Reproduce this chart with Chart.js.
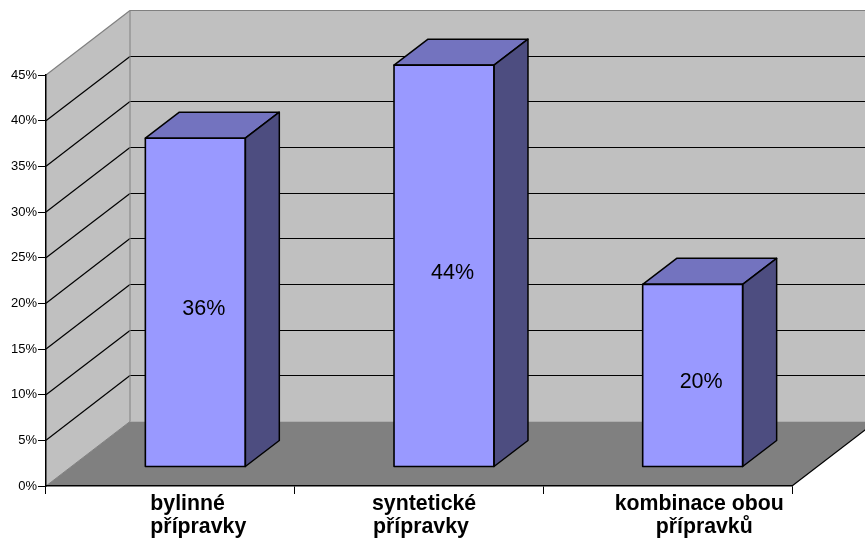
<!DOCTYPE html>
<html>
<head>
<meta charset="utf-8">
<style>
html, body { margin: 0; padding: 0; background: #fff; }
canvas { display: block; }
</style>
<script src="https://cdn.jsdelivr.net/npm/chart.js@4"></script>
</head>
<body>
<canvas id="chartPripravky" width="865" height="541"></canvas>
<script>
var categories = [['bylinné', 'přípravky'], ['syntetické', 'přípravky'], ['kombinace obou', 'přípravků']];
var values = [36, 44, 20];
var yMax = 45;
var yStep = 5;

// depth of the box the chart stands in, and of one bar
var wallDepth = { x: 84, y: -64.5 };
var barDepth = { x: 34, y: -26 };
// bars stand part of the way into the floor
var barShift = { x: 25, y: -19 };
// left edge of each category text line, relative to the category centre
var labelIndent = [[-20, -20], [-47, -46], [-53, -12]];

function polygon(ctx, pts, fill, stroke, width) {
    ctx.beginPath();
    ctx.moveTo(pts[0][0], pts[0][1]);
    for (var i = 1; i < pts.length; i++) {
        ctx.lineTo(pts[i][0], pts[i][1]);
    }
    ctx.closePath();
    if (fill) {
        ctx.fillStyle = fill;
        ctx.fill();
    }
    if (stroke) {
        ctx.strokeStyle = stroke;
        ctx.lineWidth = width;
        ctx.stroke();
    }
}

function line(ctx, x1, y1, x2, y2, color, width) {
    ctx.beginPath();
    ctx.moveTo(x1, y1);
    ctx.lineTo(x2, y2);
    ctx.strokeStyle = color;
    ctx.lineWidth = width;
    ctx.stroke();
}

// back wall, side wall, floor and the grid on them
var boxPlugin = {
    id: 'box',
    beforeDraw: function (chart) {
        var ctx = chart.ctx;
        var a = chart.chartArea;
        var dx = wallDepth.x, dy = wallDepth.y;
        ctx.save();
        polygon(ctx, [[a.left + dx, a.top + dy], [a.right + dx, a.top + dy], [a.right + dx, a.bottom + dy], [a.left + dx, a.bottom + dy]], '#c0c0c0');
        polygon(ctx, [[a.left, a.top], [a.left + dx, a.top + dy], [a.left + dx, a.bottom + dy], [a.left, a.bottom]], '#c0c0c0');
        polygon(ctx, [[a.left, a.bottom], [a.right, a.bottom], [a.right + dx, a.bottom + dy], [a.left + dx, a.bottom + dy]], '#808080');

        var yScale = chart.scales.y;
        for (var v = yStep; v < yMax; v += yStep) {
            var y = yScale.getPixelForValue(v);
            // snap the back wall line so it stays one crisp pixel
            var backY = Math.floor(y + dy) + 0.5;
            line(ctx, a.left, y, a.left + dx, backY, '#000', 1.2);
            line(ctx, a.left + dx, backY, a.right + dx, backY, '#000', 1);
        }
        line(ctx, a.left, a.top, a.left + dx, a.top + dy, '#808080', 1.2);
        line(ctx, a.left + dx, a.top + dy, a.right + dx, a.top + dy, '#808080', 1);
        line(ctx, a.left + dx, a.top + dy, a.left + dx, a.bottom + dy, '#808080', 1);
        line(ctx, a.left + dx, a.bottom + dy, a.left, a.bottom, '#808080', 1);
        line(ctx, a.right, a.bottom, a.right + dx, a.bottom + dy, '#000', 1.2);
        ctx.restore();
    },
    // category text, line by line
    afterDraw: function (chart) {
        var ctx = chart.ctx;
        var xScale = chart.scales.x;
        ctx.save();
        ctx.font = 'bold 21.3px "Liberation Sans", Arial, sans-serif';
        ctx.fillStyle = '#000';
        ctx.textAlign = 'left';
        ctx.textBaseline = 'alphabetic';
        categories.forEach(function (lines, i) {
            var cx = xScale.getPixelForTick(i);
            lines.forEach(function (text, j) {
                ctx.fillText(text, cx + labelIndent[i][j], 510 + j * 23);
            });
        });
        ctx.restore();
    }
};

// moves the bars into the box and adds their outline, top, side and value text
var barPlugin = {
    id: 'bar3d',
    beforeDatasetsDraw: function (chart) {
        chart.ctx.save();
        chart.ctx.translate(barShift.x, barShift.y);
    },
    afterDatasetsDraw: function (chart) {
        var ctx = chart.ctx;
        var dx = barDepth.x, dy = barDepth.y;
        chart.getDatasetMeta(0).data.forEach(function (bar, i) {
            var p = bar.getProps(['x', 'y', 'base', 'width'], true);
            var l = p.x - p.width / 2, r = p.x + p.width / 2;
            ctx.lineJoin = 'round';
            polygon(ctx, [[l, p.y], [l + dx, p.y + dy], [r + dx, p.y + dy], [r, p.y]], '#7373bf', '#000', 1.5);
            polygon(ctx, [[r, p.y], [r + dx, p.y + dy], [r + dx, p.base + dy], [r, p.base]], '#4d4d80', '#000', 1.5);
            polygon(ctx, [[l, p.y], [r, p.y], [r, p.base], [l, p.base]], null, '#000', 1.6);
            ctx.fillStyle = '#000';
            ctx.font = '21.5px "Liberation Sans", Arial, sans-serif';
            ctx.textAlign = 'center';
            ctx.textBaseline = 'middle';
            ctx.fillText(values[i] + '%', p.x + 8.5, (p.y + p.base) / 2 + 7);
        });
        ctx.restore();
    }
};

var ctx = document.getElementById('chartPripravky').getContext('2d');
var chart = new Chart(ctx, {
    type: 'bar',
    data: {
        labels: categories,
        datasets: [{
            data: values,
            backgroundColor: '#9999ff',
            borderWidth: 0,
            barPercentage: 0.402,
            categoryPercentage: 1
        }]
    },
    options: {
        responsive: false,
        animation: false,
        layout: { padding: { top: 75, right: 73, left: 0, bottom: 0 } },
        plugins: { legend: { display: false }, tooltip: { enabled: false } },
        scales: {
            x: {
                afterFit: function (scale) { scale.height = 55; },
                grid: { drawOnChartArea: false, color: '#000', tickLength: 8 },
                border: { color: '#000', width: 1.5 },
                ticks: { display: false }
            },
            y: {
                min: 0,
                max: yMax,
                afterFit: function (scale) { scale.width = 46; },
                grid: { drawOnChartArea: false, color: '#000', tickLength: 8 },
                border: { color: '#000', width: 1.5 },
                ticks: {
                    stepSize: yStep,
                    padding: 1,
                    color: '#000',
                    font: { family: '"Liberation Sans", Arial, sans-serif', size: 13 },
                    callback: function (v) { return v + '%'; }
                }
            }
        }
    },
    plugins: [boxPlugin, barPlugin]
});
</script>
</body>
</html>
